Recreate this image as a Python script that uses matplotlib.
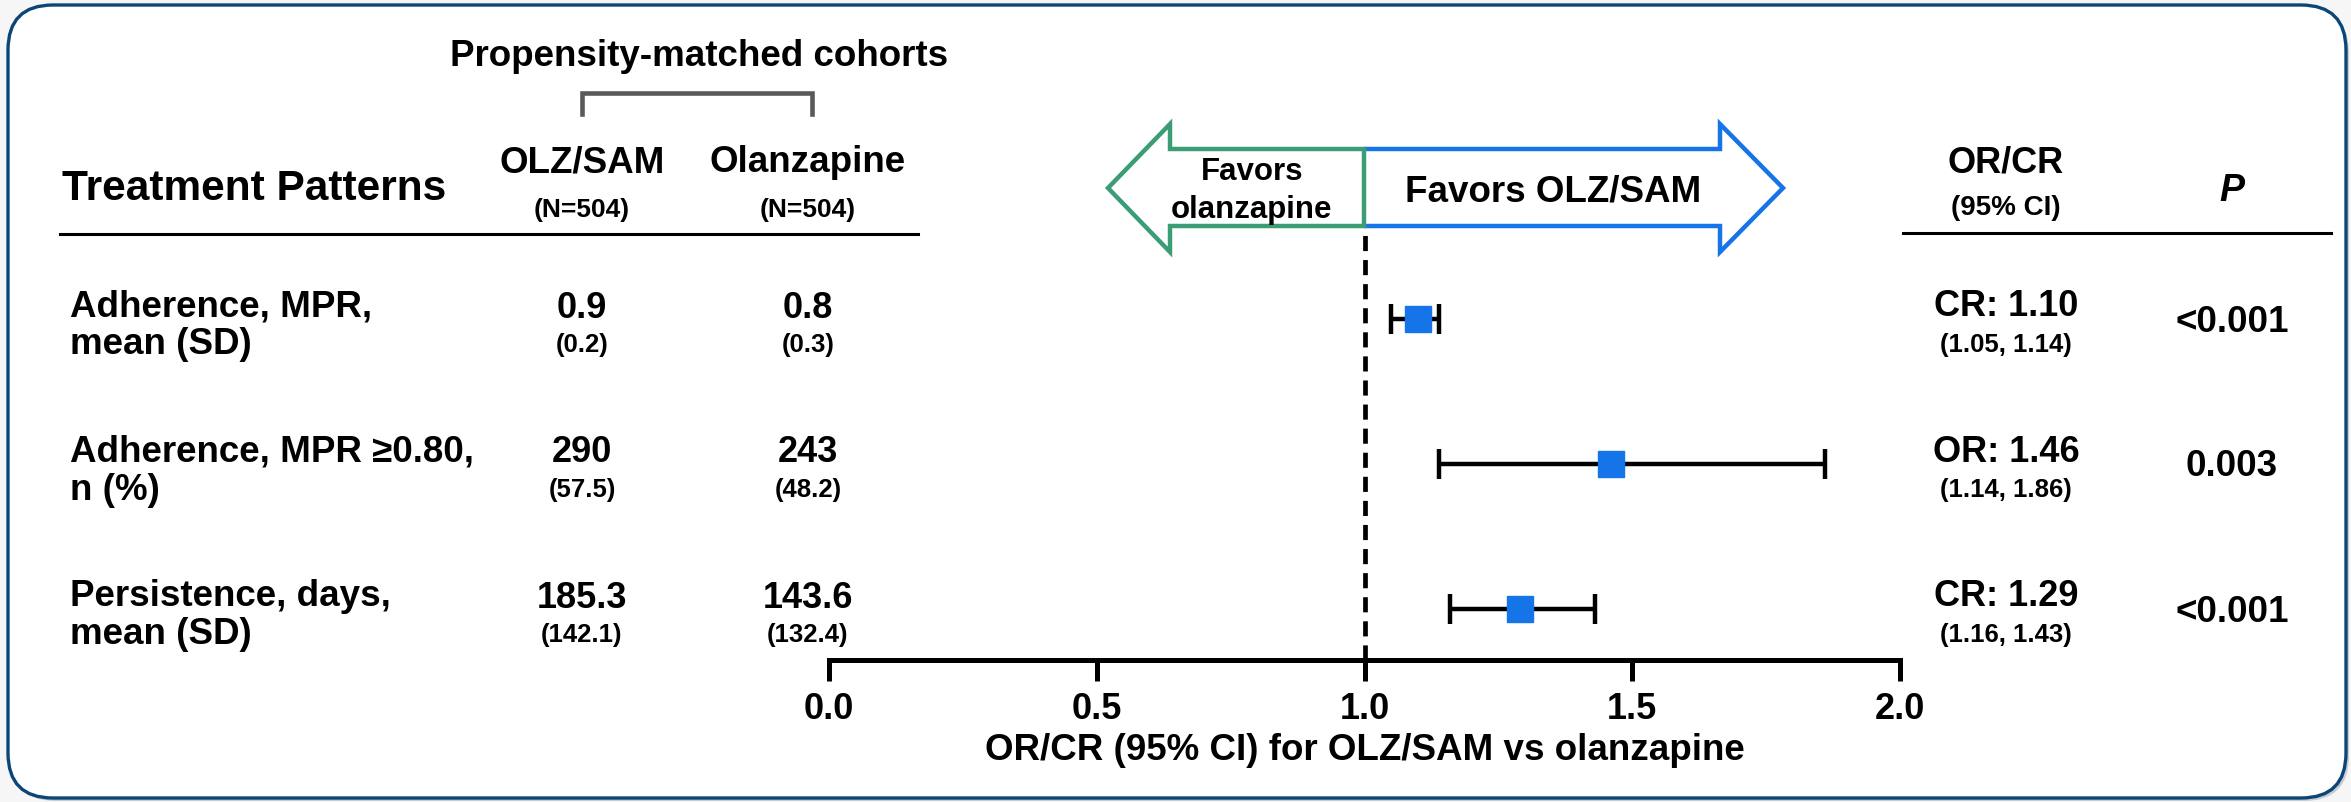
import numpy as np
import matplotlib
matplotlib.use("Agg")
import matplotlib.pyplot as plt
from matplotlib.patches import FancyBboxPatch, Polygon

plt.rcParams['font.family'] = ['Liberation Sans', 'DejaVu Sans']
plt.rcParams['font.weight'] = 'bold'

# data
categories = ["Adherence, MPR,\nmean (SD)",
              "Adherence, MPR \u22650.80,\nn (%)",
              "Persistence, days,\nmean (SD)"]
olz_main = ["0.9", "290", "185.3"]
olz_sub = ["(0.2)", "(57.5)", "(142.1)"]
ola_main = ["0.8", "243", "143.6"]
ola_sub = ["(0.3)", "(48.2)", "(132.4)"]
ratio_type = ["CR", "OR", "CR"]
estimate = np.array([1.10, 1.46, 1.29])
ci_low = np.array([1.05, 1.14, 1.16])
ci_high = np.array([1.14, 1.86, 1.43])
p_values = ["<0.001", "0.003", "<0.001"]
x_ticks = [0.0, 0.5, 1.0, 1.5, 2.0]

# layout (pixels)
W, H = 2351, 802
ROW0, STEP = 319, 145
AX_L, AX_R, AX_TOP, AX_BOT = 829, 1900, 228, 660
COL_OLZ, COL_OLA, COL_OR, COL_P = 582, 808, 2006, 2232
BLUE = '#1575e8'
GREEN = '#3c9c76'
NAVY = '#0c4677'

fig = plt.figure(figsize=(W / 100, H / 100), dpi=100, facecolor='#f6f6f6')
ax0 = fig.add_axes([0, 0, 1, 1])
ax0.set_xlim(0, W)
ax0.set_ylim(H, 0)
ax0.axis('off')

# rounded frame + shadow
ax0.add_patch(FancyBboxPatch((11, 8), 2338, 793, boxstyle="round,pad=0,rounding_size=45",
                             fc='#c9cdd2', ec='none', zorder=0))
ax0.add_patch(FancyBboxPatch((8, 5), 2338, 793, boxstyle="round,pad=0,rounding_size=45",
                             fc='white', ec=NAVY, lw=2.4, zorder=1))

# header, left table
ax0.text(699, 57, "Propensity-matched cohorts", fontsize=26.5, ha='center', va='center')
ax0.plot([582, 582, 812, 812], [114, 93, 93, 114], color='#595959', lw=3.3,
         solid_joinstyle='miter')
ax0.text(62, 189, "Treatment Patterns", fontsize=30.5, ha='left', va='center')
for x, name in [(COL_OLZ, "OLZ/SAM"), (COL_OLA, "Olanzapine")]:
    ax0.text(x, 163, name, fontsize=26.5, ha='center', va='center')
    ax0.text(x, 210, "(N=504)", fontsize=19, ha='center', va='center')
ax0.plot([60, 918], [234, 234], color='black', lw=2.2)

# header, right table
ax0.text(COL_OR, 163, "OR/CR", fontsize=26, ha='center', va='center')
ax0.text(COL_OR, 208, "(95% CI)", fontsize=20, ha='center', va='center')
ax0.text(COL_P, 191, "P", fontsize=27, ha='center', va='center', style='italic')
ax0.plot([1903, 2331], [233, 233], color='black', lw=2.2)

# rows of text
for i in range(len(categories)):
    y = ROW0 + STEP * i
    first, second = categories[i].split("\n")
    ax0.text(70, y - 12, first, fontsize=26.5, ha='left', va='center')
    ax0.text(70, y + 26, second, fontsize=26.5, ha='left', va='center')
    ax0.text(COL_OLZ, y - 11, olz_main[i], fontsize=26, ha='center', va='center')
    ax0.text(COL_OLZ, y + 26, olz_sub[i], fontsize=18.5, ha='center', va='center')
    ax0.text(COL_OLA, y - 11, ola_main[i], fontsize=26, ha='center', va='center')
    ax0.text(COL_OLA, y + 26, ola_sub[i], fontsize=18.5, ha='center', va='center')
    ax0.text(COL_OR, y - 12, "%s: %.2f" % (ratio_type[i], estimate[i]),
             fontsize=26, ha='center', va='center')
    ax0.text(COL_OR, y + 26, "(%.2f, %.2f)" % (ci_low[i], ci_high[i]),
             fontsize=18.5, ha='center', va='center')
    ax0.text(COL_P, y + 3, p_values[i], fontsize=26.5, ha='center', va='center')

# arrows
mid = 1364
green_pts = [(mid, 149), (1170, 149), (1170, 124), (1108, 188), (1170, 252), (1170, 226), (mid, 226)]
blue_pts = [(mid, 149), (1720, 149), (1720, 124), (1783, 188), (1720, 252), (1720, 226), (mid, 226)]
ax0.add_patch(Polygon(blue_pts, closed=False, fill=False, ec=BLUE, lw=3.2, joinstyle='miter'))
ax0.add_patch(Polygon(green_pts, closed=True, fill=False, ec=GREEN, lw=3.2, joinstyle='miter'))
ax0.text(1252, 172, "Favors", fontsize=22.5, ha='center', va='center')
ax0.text(1252, 210, "olanzapine", fontsize=22.5, ha='center', va='center')
ax0.text(1553, 192, "Favors OLZ/SAM", fontsize=26.5, ha='center', va='center')

# forest plot
ax = fig.add_axes([AX_L / W, (H - AX_BOT) / H, (AX_R - AX_L) / W, (AX_BOT - AX_TOP) / H])
ax.patch.set_alpha(0)
idx = np.arange(len(estimate))
ax.axvline(1.0, color='black', lw=3.4, ls=(0, (3.2, 1.9)), zorder=1)
ax.errorbar(estimate, idx, xerr=[estimate - ci_low, ci_high - estimate], fmt='s',
            color=BLUE, ms=19, ecolor='black', elinewidth=3.2, capsize=11, capthick=3.2,
            zorder=3)
ax.set_xlim(0, 2)
ax.set_ylim((AX_BOT - ROW0) / STEP, (AX_TOP - ROW0) / STEP)
for s in ['top', 'left', 'right']:
    ax.spines[s].set_visible(False)
ax.spines['bottom'].set_linewidth(3.6)
ax.set_yticks([])
ax.set_xticks(x_ticks)
ax.set_xticklabels(["%.1f" % t for t in x_ticks])
ax.tick_params(axis='x', direction='out', length=15, width=3.6, pad=8, labelsize=26)
ax0.text((AX_L + AX_R) / 2, 751, "OR/CR (95% CI) for OLZ/SAM vs olanzapine",
         fontsize=26.5, ha='center', va='center')

fig.savefig("out.png", dpi=100, facecolor=fig.get_facecolor())
